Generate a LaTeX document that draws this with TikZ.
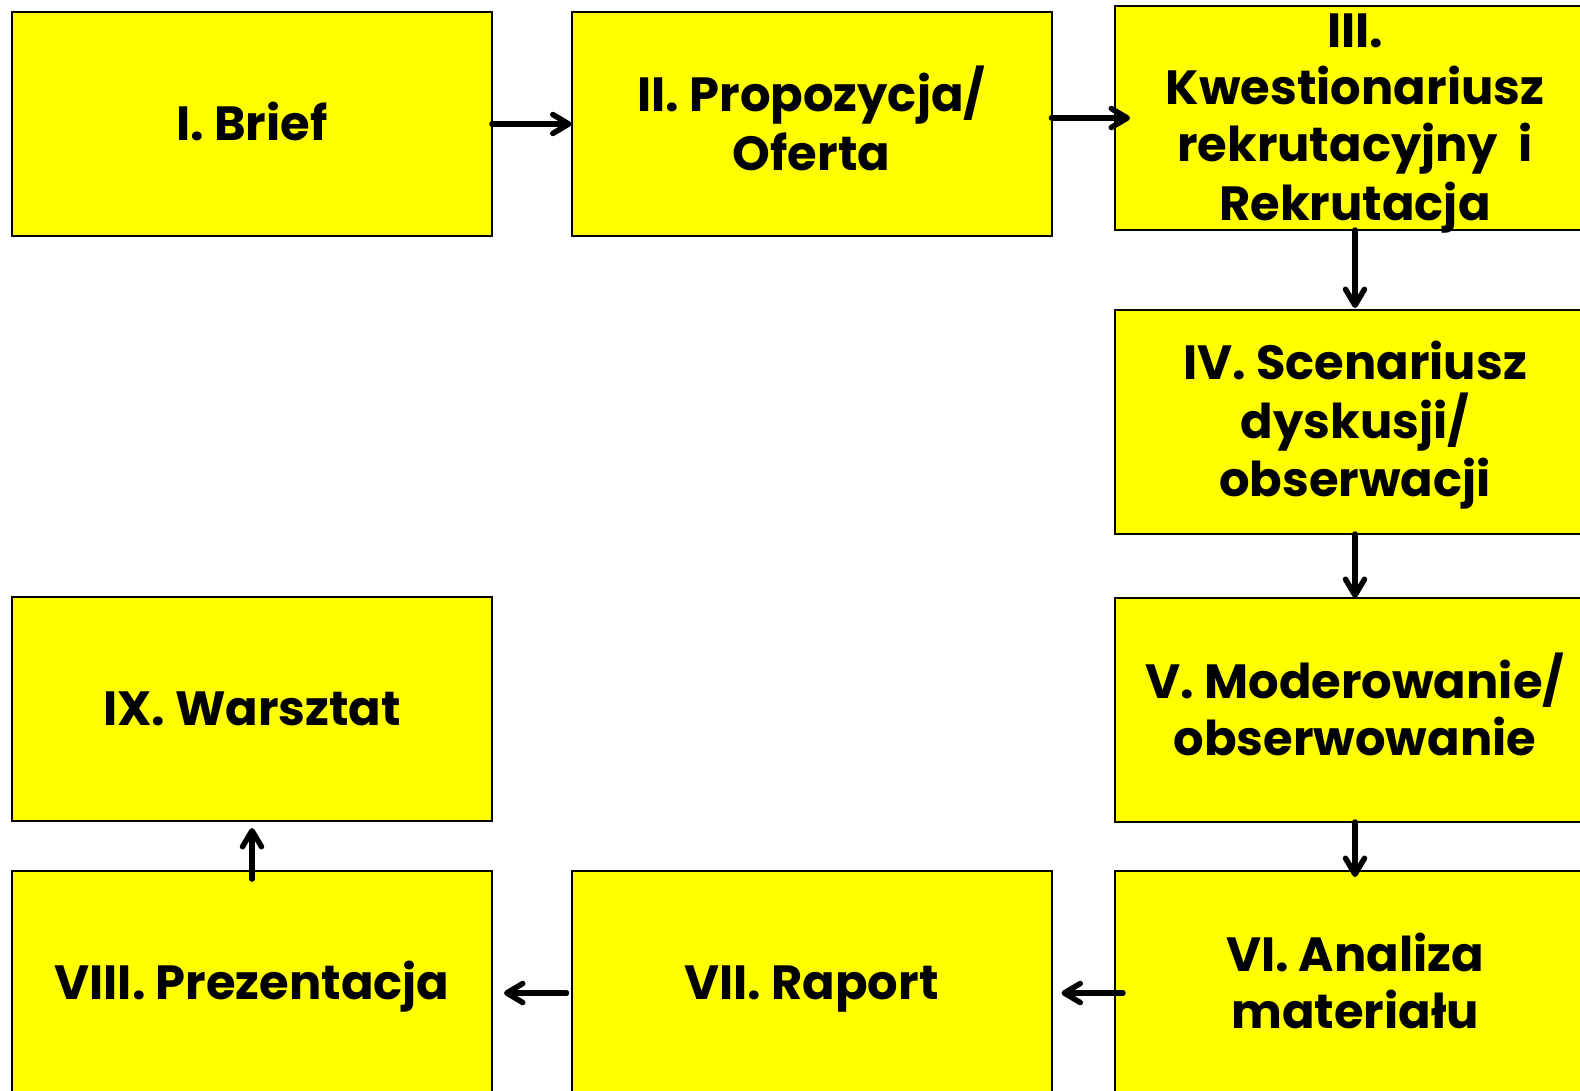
\documentclass[tikz,border=0pt]{standalone}
\usepackage{fontspec}
\setmainfont{Poppins}
\usetikzlibrary{arrows.meta}
\definecolor{boxyellow}{RGB}{255,255,0}
% uniform line box: cap centre sits at the middle of each line
\newcommand\linestrut{\rule[-12pt]{0pt}{57pt}}
\tikzset{
  stagebox/.style={draw=black, line width=2pt, fill=boxyellow,
    minimum width=480pt, minimum height=224pt, inner sep=0pt, outer sep=0pt,
    align=center, font=\fontsize{48}{57}\selectfont\bfseries},
  flowtip/.tip={Straight Barb[length=16pt, width=19pt, round]},
  flow/.style={draw=black, line width=5.5pt, line cap=round, -flowtip}
}
\begin{document}
\begin{tikzpicture}[x=1pt, y=-1pt]
  \useasboundingbox (0,0) rectangle (1580,1090);
  % top row
  \node[stagebox] (s1) at (252,124) {\linestrut I. Brief};
  \node[stagebox] (s2) at (811.5,124) {\linestrut II. Propozycja/\\\linestrut Oferta};
  % four lines overflow the box, so its height is fixed (baseline = last line)
  \node[stagebox, text height=214pt, text depth=10pt] (s3) at (1355,118)
    {\linestrut III.\\\linestrut Kwestionariusz\\\linestrut rekrutacyjny\ \ i\\\linestrut Rekrutacja};
  % right column
  \node[stagebox] (s4) at (1355,422) {\linestrut IV. Scenariusz\\\linestrut dyskusji/\\\linestrut obserwacji};
  \node[stagebox] (s5) at (1355,710) {\linestrut V. Moderowanie/\\\linestrut obserwowanie};
  % bottom row
  \node[stagebox] (s6) at (1355,983) {\linestrut VI. Analiza\\\linestrut materiału};
  \node[stagebox] (s7) at (811.5,983) {\linestrut VII. Raport};
  \node[stagebox] (s8) at (252,983) {\linestrut VIII. Prezentacja};
  \node[stagebox] (s9) at (252,709) {\linestrut IX. Warsztat};
  % connectors
  \draw[flow] (s1.east) -- (s2.west);
  \draw[flow] ([yshift=6pt]s2.east) -- ([xshift=15pt]s3.west);
  \draw[flow] (s3.south) -- ([yshift=2pt]s4.north);
  \draw[flow] (s4.south) -- (s5.north);
  \draw[flow] (s5.south) -- ([yshift=-6pt]s6.north);
  \draw[flow] ([xshift=8pt,yshift=-10pt]s6.west) -- ([xshift=10pt,yshift=-10pt]s7.east);
  \draw[flow] ([xshift=-5pt,yshift=-10pt]s7.west) -- ([xshift=12pt,yshift=-10pt]s8.east);
  \draw[flow] ([yshift=-8pt]s8.north) -- ([yshift=-7pt]s9.south);
\end{tikzpicture}
\end{document}
